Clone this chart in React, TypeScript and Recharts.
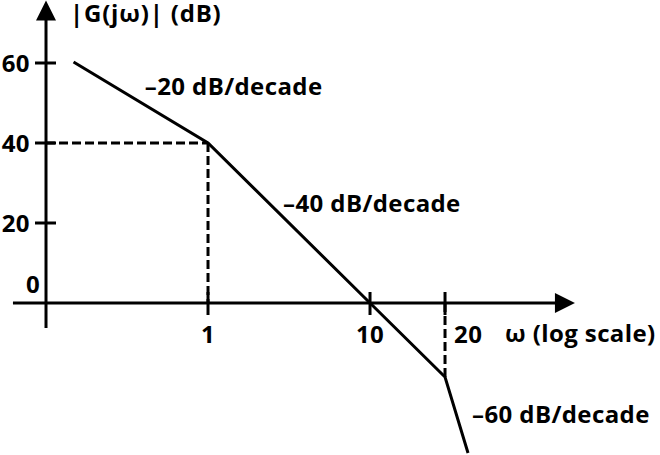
import {
  ComposedChart,
  Line,
  XAxis,
  YAxis,
  ReferenceLine,
  ReferenceDot,
} from "recharts";

// x is measured in decades from omega = 1 (as drawn), y in dB
const asymptoteDecades = [-0.83, 0, 1, 1.463, 1.605];
const asymptoteDb = [60.25, 40, 0, -18.5, -37.5];

const yTickValues = [60, 40, 20];
const yTickLabels = ["60", "40", "20"];

const xTickDecades = [0, 1, 1.463];
const xTickLabels = ["1", "10", "20"];

const slopeLabels = ["\u201320 dB/decade", "\u201340 dB/decade", "\u201360 dB/decade"];
const slopeLabelDecades = [-0.39, 0.463, 1.63];
const slopeLabelDb = [52, 22.75, -30];

const X_DOMAIN: [number, number] = [-1.284, 2.79];
const Y_DOMAIN: [number, number] = [-38, 75.75];
const Y_AXIS_AT = -1;
const FONT = "'Open Sans', 'DejaVu Sans', sans-serif";
const INK = "#000";

const data = asymptoteDecades.map((u, i) => ({ u, db: asymptoteDb[i] }));

const textStyle = {
  fontFamily: FONT,
  fontWeight: 700,
  fontSize: 24,
  letterSpacing: 0.4,
  fill: INK,
};

const RightArrow = (props: any) => {
  const { cx, cy } = props;
  return (
    <path
      d={`M${cx},${cy} L${cx - 20},${cy - 10} L${cx - 20},${cy + 10} Z`}
      fill={INK}
    />
  );
};

const UpArrow = (props: any) => {
  const { cx, cy } = props;
  return (
    <path
      d={`M${cx},${cy} L${cx - 10},${cy + 20} L${cx + 10},${cy + 20} Z`}
      fill={INK}
    />
  );
};

const makeYTick = (label: string) => (props: any) => {
  const { cx, cy } = props;
  return (
    <g>
      <line x1={cx - 11} y1={cy} x2={cx + 10} y2={cy} stroke={INK} strokeWidth={3} />
      <text x={cx - 16} y={cy + 9} textAnchor="end" style={textStyle}>
        {label}
      </text>
    </g>
  );
};

const makeXTick = (label: string, idx: number) => (props: any) => {
  const { cx, cy } = props;
  const last = idx === xTickLabels.length - 1;
  return (
    <g>
      <line x1={cx} y1={cy - 11} x2={cx} y2={cy + 12} stroke={INK} strokeWidth={3} />
      <text
        x={last ? cx + 9 : cx}
        y={cy + 40}
        textAnchor={last ? "start" : "middle"}
        style={textStyle}
      >
        {label}
      </text>
    </g>
  );
};

const makeText = (label: string, spacing = 0.4) => (props: any) => {
  const { cx, cy } = props;
  return (
    <text
      x={cx}
      y={cy}
      textAnchor="start"
      style={{ ...textStyle, letterSpacing: spacing }}
    >
      {label}
    </text>
  );
};

export default function App() {
  return (
    <div style={{ position: "absolute", left: 0, top: 0, background: "#fff" }}>
      <ComposedChart
        width={660}
        height={455}
        data={data}
        margin={{ top: 0, right: 0, bottom: 0, left: 0 }}
      >
        <XAxis
          type="number"
          dataKey="u"
          domain={X_DOMAIN}
          allowDataOverflow
          hide
        />
        <YAxis type="number" domain={Y_DOMAIN} allowDataOverflow hide />

        {/* axes */}
        <ReferenceLine
          segment={[
            { x: -1.204, y: 0 },
            { x: 2.15, y: 0 },
          ]}
          stroke={INK}
          strokeWidth={3}
        />
        <ReferenceDot x={2.265} y={0} r={0} shape={RightArrow} />
        <ReferenceLine
          segment={[
            { x: Y_AXIS_AT, y: -6.25 },
            { x: Y_AXIS_AT, y: 71 },
          ]}
          stroke={INK}
          strokeWidth={3}
        />
        <ReferenceDot x={Y_AXIS_AT} y={75.6} r={0} shape={UpArrow} />

        {/* dashed guides */}
        <ReferenceLine
          segment={[
            { x: Y_AXIS_AT, y: 40 },
            { x: 0, y: 40 },
          ]}
          stroke={INK}
          strokeWidth={3}
          strokeDasharray="9 4"
        />
        <ReferenceLine
          segment={[
            { x: 0, y: 40 },
            { x: 0, y: 0 },
          ]}
          stroke={INK}
          strokeWidth={3}
          strokeDasharray="9 4"
        />
        <ReferenceLine
          segment={[
            { x: 1.463, y: 0 },
            { x: 1.463, y: -18.5 },
          ]}
          stroke={INK}
          strokeWidth={3}
          strokeDasharray="9 4"
        />

        {yTickValues.map((v, i) => (
          <ReferenceDot
            key={`y${v}`}
            x={Y_AXIS_AT}
            y={v}
            r={0}
            shape={makeYTick(yTickLabels[i])}
          />
        ))}
        <ReferenceDot
          x={Y_AXIS_AT}
          y={0}
          r={0}
          shape={(p: any) => (
            <text x={p.cx - 6} y={p.cy - 10} textAnchor="end" style={textStyle}>
              0
            </text>
          )}
        />

        {xTickDecades.map((u, i) => (
          <ReferenceDot
            key={`x${u}`}
            x={u}
            y={0}
            r={0}
            shape={makeXTick(xTickLabels[i], i)}
          />
        ))}

        {slopeLabels.map((s, i) => (
          <ReferenceDot
            key={s}
            x={slopeLabelDecades[i]}
            y={slopeLabelDb[i]}
            r={0}
            shape={makeText(s)}
          />
        ))}
        <ReferenceDot
          x={-0.852}
          y={70.25}
          r={0}
          shape={makeText("|G(j\u03c9)| (dB)", 0.8)}
        />
        <ReferenceDot x={1.833} y={-9.75} r={0} shape={makeText("\u03c9 (log scale)")} />

        <Line
          type="linear"
          dataKey="db"
          stroke={INK}
          strokeWidth={3}
          dot={false}
          activeDot={false}
          isAnimationActive={false}
        />
      </ComposedChart>
    </div>
  );
}
